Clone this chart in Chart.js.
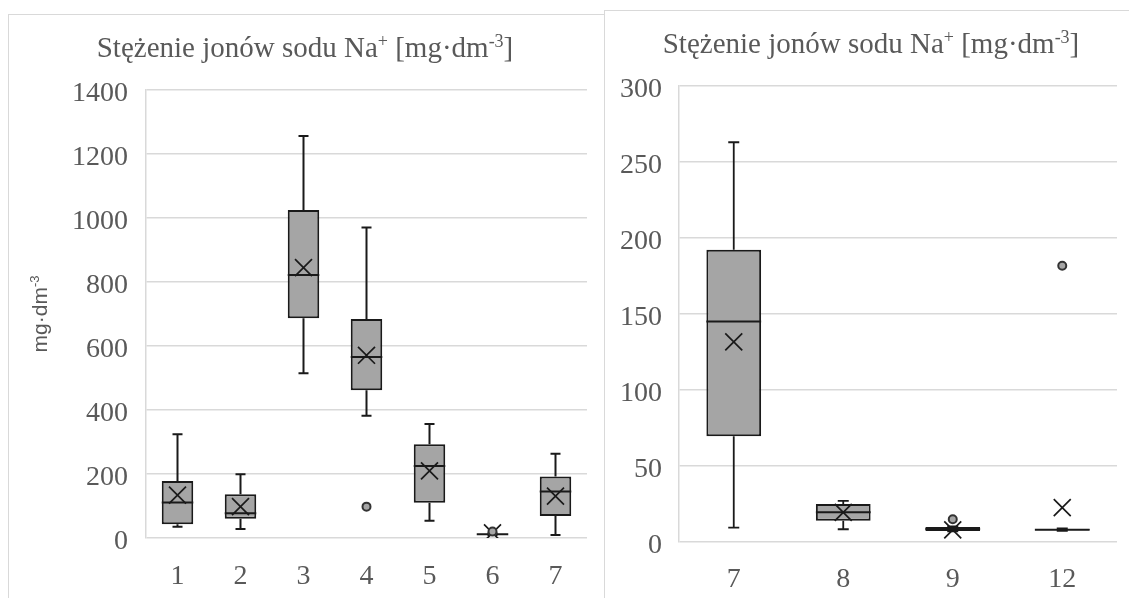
<!DOCTYPE html>
<html>
<head>
<meta charset="utf-8">
<script src="https://cdn.jsdelivr.net/npm/chart.js@4.4.1/dist/chart.umd.min.js"></script>
<style>
  html, body { margin: 0; padding: 0; background: #fff; overflow: hidden; width: 1129px; height: 598px; }
  .panel { position: absolute; box-sizing: border-box; border-left: 1px solid #d9d9d9; border-top: 1px solid #d9d9d9; background: #fff; }
  #p1 { left: 8px; top: 14px; width: 597px; height: 600px; }
  #p2 { left: 604px; top: 10px; width: 540px; height: 600px; }
  canvas { display: block; }
</style>
</head>
<body>
<div class="panel" id="p1"><canvas id="c1" width="595" height="583"></canvas></div>
<div class="panel" id="p2"><canvas id="c2" width="536" height="587"></canvas></div>
<script>
// Sodium ion concentration, box-plot statistics per sampling point (mg·dm⁻³)

// Panel 1: points 1–7
const categoriesA = ['1', '2', '3', '4', '5', '6', '7'];
const minA      = [35, 28, 515, 382, 54, 9, 9];
const q1A       = [43, 60, 687, 462, 110, 11, 69];
const medianA   = [111, 77, 822, 566, 225, 12, 145];
const q3A       = [178, 137, 1025, 684, 293, 13, 192];
const maxA      = [324, 199, 1256, 970, 356, 15, 263];
const meanA     = [134, 98, 845, 571, 210, 16, 131];
const outlierA  = [null, null, null, 98, null, 20, null];
const ticksA    = [0, 200, 400, 600, 800, 1000, 1200, 1400];

// Panel 2: points 7, 8, 9, 12
const categoriesB = ['7', '8', '9', '12'];
const minB      = [9.5, 8.4, 7.0, 7.3];
const q1B       = [69.6, 14, 7.3, 7.7];
const medianB   = [145, 19.5, 8.5, 8];
const q3B       = [192.3, 25, 9.9, 8.5];
const maxB      = [263, 27, 10.3, 9];
const meanB     = [131.7, 19.5, 8, 22.6];
const outlierB  = [null, null, 15, 181.7];
const ticksB    = [0, 50, 100, 150, 200, 250, 300];

// Title and axis title as runs of normal / superscript text
const TITLE_RUNS = [['Stężenie jonów sodu Na', false], ['+', true], [' [mg·dm', false], ['-3', true], [']', false]];
const UNIT_RUNS  = [['mg·dm', false], ['-3', true]];

const AXIS_TEXT = '#595959';
const GRID = '#d9d9d9';
const BOX_FILL = '#a5a5a5';
const INK = '#1a1a1a';

// Draws a sequence of text runs centred on (cx, baseline), superscripts smaller and raised
function drawRuns(ctx, runs, cx, baseY, family, size) {
  const supSize = Math.round(size * 0.62);
  const fontFor = sup => (sup ? supSize : size) + 'px "' + family + '"';
  let total = 0;
  runs.forEach(([t, sup]) => { ctx.font = fontFor(sup); total += ctx.measureText(t).width; });
  let x = cx - total / 2;
  ctx.textAlign = 'left';
  ctx.textBaseline = 'alphabetic';
  runs.forEach(([t, sup]) => {
    ctx.font = fontFor(sup);
    ctx.fillText(t, x, sup ? baseY - size * 0.36 : baseY);
    x += ctx.measureText(t).width;
  });
}

// Whiskers, caps and median line drawn through the chart's own scales
const whiskerPlugin = {
  id: 'whiskers',
  afterDatasetDraw(chart, args) {
    if (args.index !== 0) return;
    const ds = chart.data.datasets[0];
    const st = ds.stats;
    const y = chart.scales.y;
    const ctx = chart.ctx;
    const cw = ds.capWidth / 2;
    ctx.save();
    ctx.strokeStyle = INK;
    args.meta.data.forEach((bar, i) => {
      const x = bar.x;
      const hw = bar.width / 2;
      const yMin = y.getPixelForValue(st.min[i]);
      const yMax = y.getPixelForValue(st.max[i]);
      const yQ1 = y.getPixelForValue(st.q1[i]);
      const yQ3 = y.getPixelForValue(st.q3[i]);
      const yMed = y.getPixelForValue(st.median[i]);
      ctx.lineWidth = ds.whiskerWidth;
      ctx.beginPath();
      ctx.moveTo(x, yQ3); ctx.lineTo(x, yMax);
      ctx.moveTo(x - cw, yMax); ctx.lineTo(x + cw, yMax);
      ctx.moveTo(x, yQ1); ctx.lineTo(x, yMin);
      ctx.moveTo(x - cw, yMin); ctx.lineTo(x + cw, yMin);
      ctx.stroke();
      ctx.lineWidth = ds.borderWidth;
      ctx.beginPath();
      ctx.moveTo(x - hw, yMed); ctx.lineTo(x + hw, yMed);
      ctx.stroke();
    });
    ctx.restore();
  }
};

// Chart title and rotated unit label
const labelPlugin = {
  id: 'labels',
  afterDraw(chart) {
    const cfg = chart.$panel;
    const ctx = chart.ctx;
    ctx.save();
    ctx.fillStyle = AXIS_TEXT;
    drawRuns(ctx, TITLE_RUNS, cfg.titleX, cfg.titleBase, 'Liberation Serif', 29);
    if (cfg.unit) {
      const area = chart.chartArea;
      ctx.translate(cfg.unitX, (area.top + area.bottom) / 2);
      ctx.rotate(-Math.PI / 2);
      drawRuns(ctx, UNIT_RUNS, 0, 7, 'Liberation Sans', 21);
    }
    ctx.restore();
  }
};

function boxChart(canvasId, cfg) {
  const tickSet = cfg.ticks;
  const chart = new Chart(document.getElementById(canvasId), {
    type: 'bar',
    data: {
      labels: cfg.categories,
      datasets: [
        {
          data: cfg.q1.map((v, i) => [v, cfg.q3[i]]),
          backgroundColor: BOX_FILL,
          borderColor: INK,
          borderWidth: 2,
          borderSkipped: false,
          barPercentage: 0.5,
          categoryPercentage: 1.0,
          order: 2,
          stats: { min: cfg.min, q1: cfg.q1, median: cfg.median, q3: cfg.q3, max: cfg.max },
          capWidth: cfg.capWidth,
          whiskerWidth: cfg.whiskerWidth
        },
        {
          type: 'line',
          data: cfg.mean,
          showLine: false,
          pointStyle: 'crossRot',
          pointRadius: 12,
          pointBorderColor: INK,
          pointBorderWidth: 1.7,
          pointBackgroundColor: 'rgba(0,0,0,0)',
          order: 1
        },
        {
          type: 'line',
          data: cfg.outliers,
          showLine: false,
          pointStyle: 'circle',
          pointRadius: 4,
          pointBackgroundColor: BOX_FILL,
          pointBorderColor: '#333333',
          pointBorderWidth: 2,
          order: 0
        }
      ]
    },
    options: {
      responsive: false,
      animation: false,
      devicePixelRatio: 1,
      events: [],
      layout: { padding: { left: 0, right: cfg.padRight, top: 75, bottom: 0 } },
      plugins: {
        legend: { display: false },
        tooltip: { enabled: false },
        title: { display: false }
      },
      scales: {
        x: {
          grid: { display: false, drawTicks: false },
          border: { display: false },
          ticks: { color: AXIS_TEXT, font: { family: 'Liberation Serif', size: 28 }, padding: cfg.xPad },
          afterFit(s) { s.height = cfg.xHeight; }
        },
        y: {
          min: tickSet[0],
          max: tickSet[tickSet.length - 1],
          afterBuildTicks(s) { s.ticks = tickSet.map(v => ({ value: v })); },
          ticks: {
            color: AXIS_TEXT,
            font: { family: 'Liberation Serif', size: 28 },
            padding: cfg.tickPad,
            labelOffset: 4,
            callback: v => String(v)
          },
          grid: { color: GRID, lineWidth: 1.5, drawTicks: false },
          border: { display: true, color: GRID, width: 1.5 },
          afterFit(s) { s.width = cfg.yWidth; }
        }
      }
    },
    plugins: [whiskerPlugin, labelPlugin]
  });
  return chart;
}

// Panel placement settings are attached before the first draw
Chart.register({
  id: 'panelSettings',
  beforeInit(chart) {
    chart.$panel = chart.canvas.id === 'c1'
      ? { titleX: 296, titleBase: 42, unit: true, unitX: 31 }
      : { titleX: 266, titleBase: 42, unit: false };
  }
});

boxChart('c1', {
  categories: categoriesA, min: minA, q1: q1A, median: medianA, q3: q3A, max: maxA,
  mean: meanA, outliers: outlierA, ticks: ticksA,
  yWidth: 137, tickPad: 18, padRight: 17, xHeight: 60, xPad: 22,
  capWidth: 10, whiskerWidth: 2
});

boxChart('c2', {
  categories: categoriesB, min: minB, q1: q1B, median: medianB, q3: q3B, max: maxB,
  mean: meanB, outliers: outlierB, ticks: ticksB,
  yWidth: 74, tickPad: 17, padRight: 24, xHeight: 56, xPad: 21,
  capWidth: 11, whiskerWidth: 1.8
});
</script>
</body>
</html>
